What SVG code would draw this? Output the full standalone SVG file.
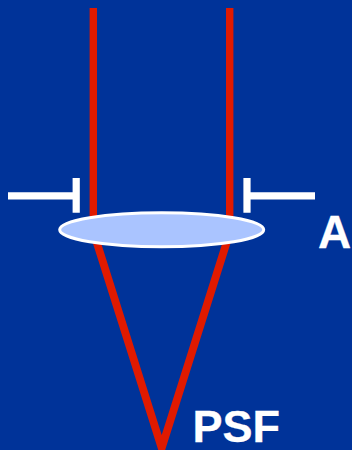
<svg xmlns="http://www.w3.org/2000/svg" width="352" height="450" viewBox="0 0 352 450">
<style>
.ray{fill:none;stroke:#e01a00;stroke-width:7.4}
.stop{fill:none;stroke:#fff;stroke-width:7.2}
.lbl{font-family:"Liberation Sans",Arial,sans-serif;font-weight:700;fill:#fff;stroke:#fff;stroke-width:.3}
</style>
<rect width="352" height="450" fill="#003399"/>
<g id="connectors">
<path class="ray" d="M93.3 8V222"/>
<path class="ray" d="M229.7 8V222"/>
<path class="ray" style="stroke-width:7.8" d="M96 240L161.700 448L227.400 240"/>
</g>
<g id="stop-left"><path class="stop" d="M8 195.800H76.200M76.200 178V212.700"/></g>
<g id="stop-right"><path class="stop" d="M315 195.800H247M247 178V212.700"/></g>
<g id="lens"><ellipse cx="161.700" cy="229.700" rx="102" ry="17" fill="#aac4ff" stroke="#fff" stroke-width="3"/></g>
<g id="label-a"><text class="lbl" x="318" y="247.500" font-size="46">A</text></g>
<g id="label-psf"><text class="lbl" x="192.500" y="441.500" font-size="45">PSF</text></g>
</svg>
